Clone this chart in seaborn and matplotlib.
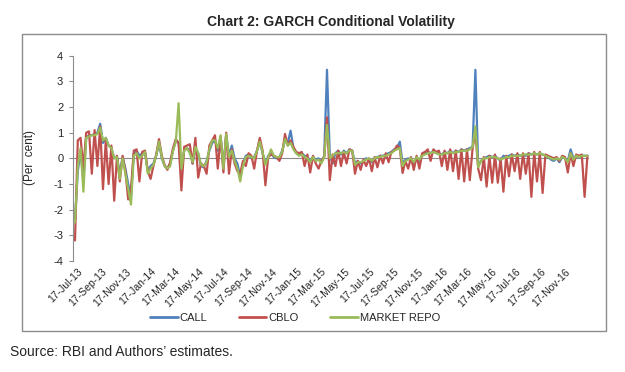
import pandas as pd
import matplotlib
matplotlib.use("Agg")
import matplotlib.pyplot as plt
import seaborn as sns
from matplotlib.lines import Line2D
from matplotlib.patches import Rectangle

# weekly readings, starting 12-Jul-2013
start_date = "2013-07-12"

call = [
    -2.4, -0.5, 0.3, -0.9, 0.8, 0.9, 0.9, 0.95, 1.0, 1.35,
    0.6, 0.8, 0.5, 0.4, 0.0, 0.05, -0.6, 0.05, -0.4, -1.0,
    -1.5, 0.2, 0.3, 0.1, 0.2, 0.25, -0.5, -0.3, -0.2, 0.1,
    0.6, 0.0, -0.3, -0.4, -0.2, 0.3, 0.7, 0.6, -0.4, 0.3,
    0.4, 0.3, -0.2, 0.4, 0.2, -0.3, -0.35, -0.1, 0.3, 0.6,
    0.7, 0.3, 0.85, -0.3, 0.9, 0.1, 0.5, 0.0, -0.2, -0.7,
    -0.2, 0.1, 0.15, 0.0, 0.05, 0.3, 0.65, 0.2, -0.2, 0.1,
    0.2, 0.05, 0.0, 0.05, 0.3, 0.7, 0.6, 1.08, 0.4, 0.2,
    0.15, 0.2, 0.1, 0.05, -0.1, 0.05, -0.05, 0.0, -0.15, 0.1,
    3.45, 0.1, -0.2, 0.2, 0.3, 0.15, 0.3, 0.2, 0.35, 0.3,
    -0.2, -0.1, -0.2, -0.1, 0.0, -0.05, -0.15, 0.0, 0.05, 0.1,
    0.1, 0.15, 0.2, 0.25, 0.35, 0.4, 0.65, -0.2, -0.05, 0.0,
    -0.05, -0.3, 0.05, -0.1, 0.15, 0.2, 0.25, 0.2, 0.3, 0.2,
    0.2, 0.15, 0.25, 0.2, 0.3, 0.2, 0.3, 0.25, 0.35, 0.3,
    0.35, 0.4, 0.45, 3.45, -0.3, -0.1, 0.0, 0.05, 0.1, 0.05,
    0.1, 0.0, -0.1, 0.1, 0.05, 0.1, 0.15, 0.1, 0.15, 0.1,
    0.15, 0.1, 0.2, 0.15, 0.2, 0.15, 0.2, 0.15, 0.1, 0.05,
    -0.05, -0.1, 0.0, -0.15, 0.05, 0.0, -0.1, 0.35, 0.0, 0.1,
    0.05, 0.1, 0.1, 0.1,
]

cblo = [
    -3.2, 0.7, 0.8, -0.4, 1.0, 1.05, -0.6, 1.1, -0.3, 1.25,
    -1.2, 0.7, -1.0, 0.5, -1.65, 0.1, -0.9, 0.1, -0.5, -1.6,
    -1.2, 0.3, 0.35, -0.9, 0.25, 0.3, -0.5, -0.8, -0.3, 0.15,
    0.75, 0.1, -0.25, -0.45, -0.15, 0.4, 0.75, 0.6, -1.25, 0.45,
    0.5, 0.55, -0.2, 0.8, -0.75, -0.2, -0.3, -0.6, 0.5, 0.7,
    0.9, -0.4, 0.85, -0.55, 1.0, -0.6, 0.35, -0.2, -0.5, -0.6,
    -0.1, -0.3, 0.2, 0.1, -0.4, 0.3, 0.8, 0.3, -1.05, 0.05,
    0.15, 0.1, 0.05, -0.1, 0.2, 0.95, 0.5, 0.7, 0.45, 0.25,
    0.2, 0.25, -0.3, 0.15, -0.55, 0.1, -0.2, -0.4, -0.1, 0.05,
    1.6, -0.85, 0.15, -0.3, 0.3, -0.3, 0.25, -0.2, 0.35, 0.3,
    -0.6, -0.1, -0.45, -0.05, -0.3, 0.0, -0.5, 0.05, -0.35, 0.1,
    -0.2, 0.2, -0.15, 0.25, 0.3, 0.5, 0.4, -0.57, -0.1, -0.4,
    0.05, -0.45, 0.1, -0.4, 0.2, 0.25, 0.35, -0.1, 0.35, 0.25,
    0.3, -0.3, 0.3, -0.45, 0.35, -0.5, 0.3, -0.8, 0.35, -0.9,
    0.35, -0.85, 0.4, 1.0, -0.4, -0.85, 0.05, -1.1, 0.1, -0.95,
    0.15, -0.95, 0.0, -1.3, 0.1, -0.7, 0.15, -0.5, 0.2, -0.8,
    0.2, -0.6, 0.2, -1.5, 0.25, -0.9, 0.25, -1.35, 0.15, 0.1,
    0.05, 0.0, 0.05, -0.1, 0.1, 0.05, -0.55, 0.2, -0.3, 0.15,
    0.1, 0.15, -1.5, 0.1,
]

market_repo = [
    -2.5, -0.3, 0.4, -1.3, 0.8, 0.85, 0.9, 0.9, 0.95, 1.2,
    0.7, 0.8, 0.5, 0.4, 0.0, 0.05, -0.8, 0.0, -0.6, -1.2,
    -1.8, 0.1, 0.2, 0.0, 0.1, 0.25, -0.6, -0.4, -0.25, 0.1,
    0.65, 0.05, -0.3, -0.4, -0.3, 0.3, 0.65, 2.15, -0.4, 0.3,
    0.4, 0.2, -0.15, 0.45, 0.2, -0.25, -0.3, -0.15, 0.35, 0.7,
    0.7, 0.4, 0.9, -0.4, 0.95, 0.05, 0.3, -0.1, -0.4, -0.9,
    -0.3, 0.05, 0.1, 0.05, 0.0, 0.3, 0.65, 0.25, -0.25, 0.05,
    0.35, 0.1, 0.05, 0.05, 0.25, 0.75, 0.5, 0.6, 0.35, 0.2,
    0.1, 0.15, 0.05, 0.0, -0.15, 0.05, -0.1, -0.05, -0.2, 0.05,
    1.3, 0.0, 0.1, 0.2, 0.2, 0.2, 0.25, 0.2, 0.3, 0.3,
    -0.25, -0.15, -0.15, -0.1, -0.05, 0.0, -0.1, 0.0, 0.05, 0.05,
    0.1, 0.1, 0.15, 0.2, 0.3, 0.35, 0.4, -0.3, -0.1, -0.05,
    0.0, -0.15, 0.05, -0.05, 0.1, 0.15, 0.2, 0.2, 0.25, 0.2,
    0.15, 0.15, 0.2, 0.2, 0.25, 0.2, 0.25, 0.25, 0.3, 0.3,
    0.3, 0.35, 0.45, 1.25, -0.35, -0.1, 0.0, 0.0, 0.05, 0.05,
    0.05, 0.0, -0.05, 0.0, 0.05, 0.05, 0.1, 0.1, 0.1, 0.1,
    0.15, 0.15, 0.15, 0.15, 0.2, 0.15, 0.2, 0.15, 0.1, 0.05,
    0.0, -0.05, 0.0, -0.05, 0.05, 0.0, -0.15, 0.2, -0.05, 0.1,
    0.05, 0.1, 0.1, 0.1,
]

series_names = ["CALL", "CBLO", "MARKET REPO"]
series_colors = ["#4F81BD", "#C0504D", "#9BBB59"]

dates = pd.date_range(start_date, periods=len(call), freq="7D")
df = pd.DataFrame({"date": dates, "CALL": call, "CBLO": cblo, "MARKET REPO": market_repo})
long_df = df.melt(id_vars="date", var_name="series", value_name="value")

sns.set_style("white")
plt.rcParams["font.family"] = ["Liberation Sans", "DejaVu Sans"]
plt.rcParams["axes.unicode_minus"] = False

fig = plt.figure(figsize=(6.25, 3.72), dpi=100)
ax = fig.add_axes([73 / 625, 1 - 261 / 372, (589 - 73) / 625, (261 - 55.7) / 372])

# outer chart frame
fig.patches.append(Rectangle((22 / 625, 1 - 331 / 372), 584 / 625, 297 / 372,
                             transform=fig.transFigure, fill=False,
                             edgecolor="#8c8c8c", linewidth=1.0))

ax.axhline(0, color="#8c8c8c", linewidth=0.8, zorder=0)
sns.lineplot(data=long_df, x="date", y="value", hue="series",
             hue_order=series_names, palette=series_colors,
             linewidth=1.6, legend=False, ax=ax)

ax.set_ylim(-4, 4)
ax.set_yticks(range(-4, 5))
ax.set_xlim(pd.Timestamp("2013-07-07"), pd.Timestamp("2017-01-17"))

# labels every two months on the 17th
tick_dates = pd.date_range("2013-07-01", "2016-11-01", freq="2MS") + pd.Timedelta(days=16)
ax.set_xticks(tick_dates)
ax.set_xticklabels([d.strftime("%d-%b-%y") for d in tick_dates],
                   rotation=45, ha="right", rotation_mode="anchor", fontsize=7.5)
ax.tick_params(axis="x", length=0, pad=4)
ax.tick_params(axis="y", length=3, width=0.8, color="#8c8c8c", direction="out",
               labelsize=8, pad=4, left=True)

for side in ["top", "right", "bottom"]:
    ax.spines[side].set_visible(False)
ax.spines["left"].set_color("#8c8c8c")
ax.spines["left"].set_linewidth(0.8)
ax.set_xlabel("")
ax.set_ylabel("")

fig.text(30 / 625, 1 - 157 / 372, "(Per  cent)", rotation=90, fontsize=8.5,
         ha="center", va="center")
fig.text(331 / 625, 1 - 22 / 372, "Chart 2: GARCH Conditional Volatility",
         fontsize=10, fontweight="bold", ha="center", va="center")
fig.text(10 / 625, 1 - 352 / 372, "Source: RBI and Authors\u2019 estimates.",
         fontsize=10, ha="left", va="center")

handles = [Line2D([0], [0], color=c, linewidth=2) for c in series_colors]
fig.legend(handles, series_names, loc="center", bbox_to_anchor=(295 / 625, 1 - 318 / 372),
           ncol=3, frameon=False, fontsize=8, handlelength=2.5, handletextpad=0.2,
           columnspacing=2.8)

fig.savefig("out.png", dpi=100)
